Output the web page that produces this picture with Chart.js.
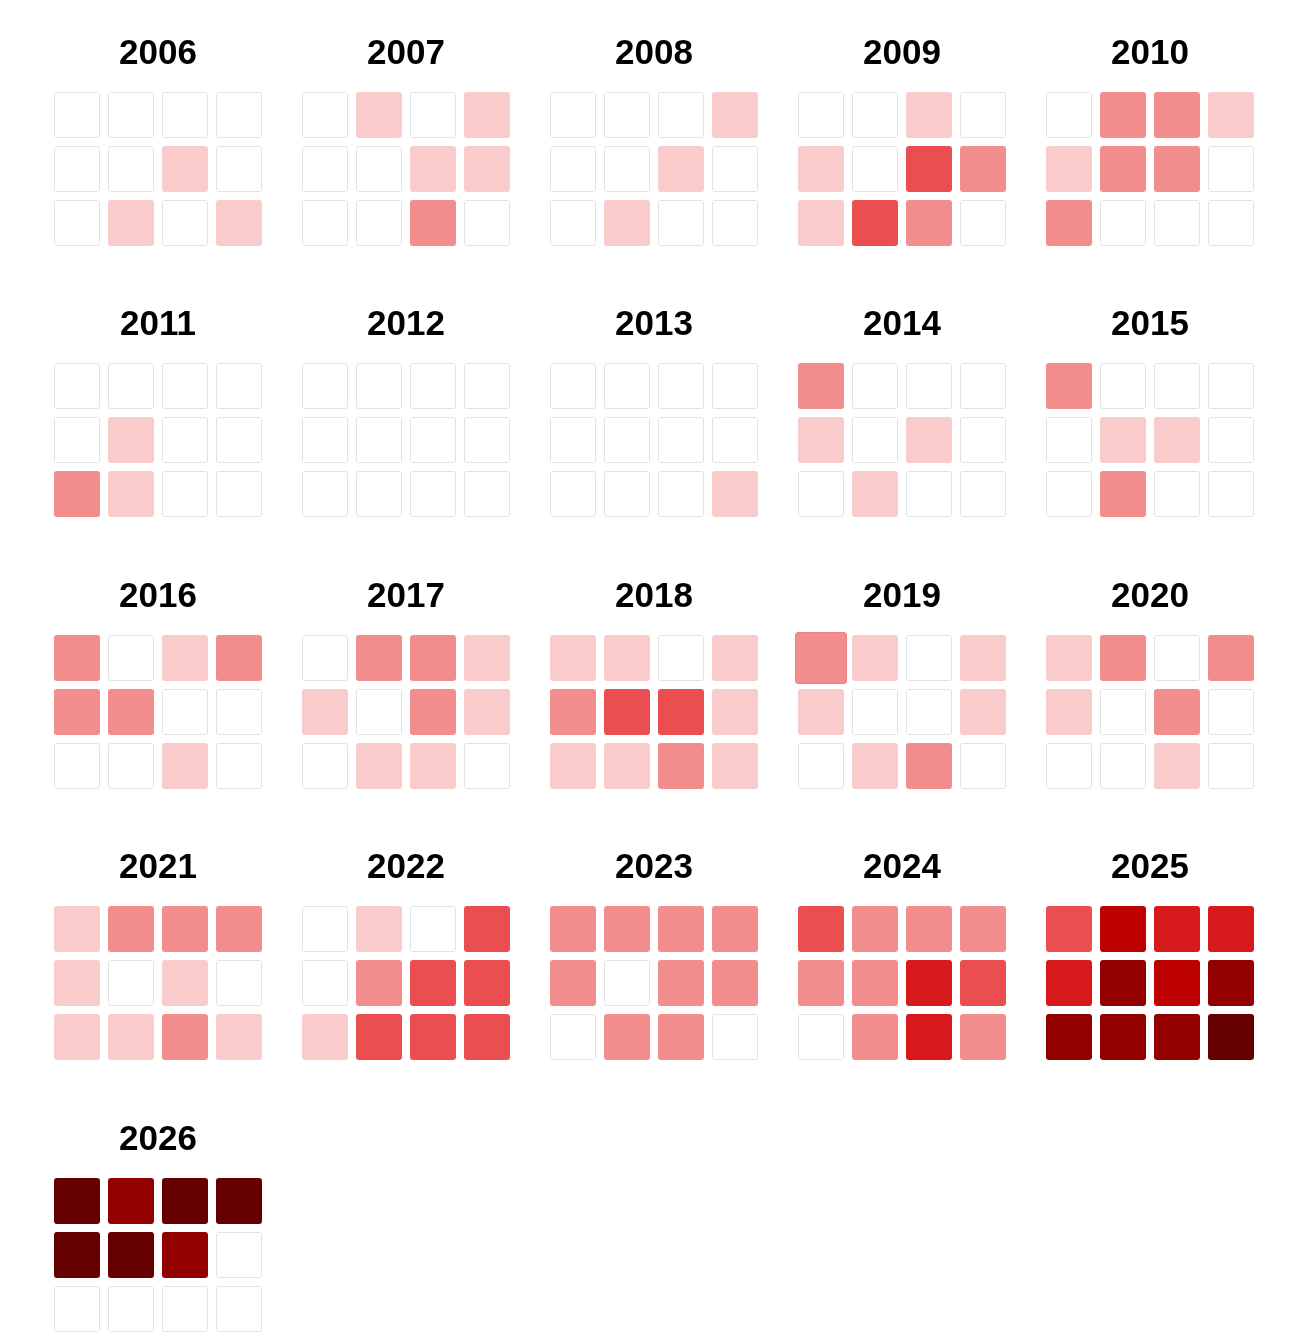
<!DOCTYPE html>
<html>
<head>
<meta charset="utf-8">
<script src="https://cdn.jsdelivr.net/npm/chart.js@4.4.1/dist/chart.umd.min.js"></script>
<style>
  html, body { margin: 0; padding: 0; background: #fff; }
  #wrap { position: relative; width: 1302px; height: 1340px; }
  .year { position: absolute; width: 216px; height: 250px; }
</style>
</head>
<body>
<div id="wrap"></div>
<script>
// years shown, one small grid each (4 columns x 3 rows = 12 months)
var years = [2006, 2007, 2008, 2009, 2010, 2011, 2012, 2013, 2014, 2015,
             2016, 2017, 2018, 2019, 2020, 2021, 2022, 2023, 2024, 2025, 2026];

// intensity level per month, Jan..Dec (0 = none)
var levels = [
  [0,0,0,0, 0,0,1,0, 0,1,0,1], // 2006
  [0,1,0,1, 0,0,1,1, 0,0,2,0], // 2007
  [0,0,0,1, 0,0,1,0, 0,1,0,0], // 2008
  [0,0,1,0, 1,0,3,2, 1,3,2,0], // 2009
  [0,2,2,1, 1,2,2,0, 2,0,0,0], // 2010
  [0,0,0,0, 0,1,0,0, 2,1,0,0], // 2011
  [0,0,0,0, 0,0,0,0, 0,0,0,0], // 2012
  [0,0,0,0, 0,0,0,0, 0,0,0,1], // 2013
  [2,0,0,0, 1,0,1,0, 0,1,0,0], // 2014
  [2,0,0,0, 0,1,1,0, 0,2,0,0], // 2015
  [2,0,1,2, 2,2,0,0, 0,0,1,0], // 2016
  [0,2,2,1, 1,0,2,1, 0,1,1,0], // 2017
  [1,1,0,1, 2,3,3,1, 1,1,2,1], // 2018
  [2,1,0,1, 1,0,0,1, 0,1,2,0], // 2019
  [1,2,0,2, 1,0,2,0, 0,0,1,0], // 2020
  [1,2,2,2, 1,0,1,0, 1,1,2,1], // 2021
  [0,1,0,3, 0,2,3,3, 1,3,3,3], // 2022
  [2,2,2,2, 2,0,2,2, 0,2,2,0], // 2023
  [3,2,2,2, 2,2,4,3, 0,2,4,2], // 2024
  [3,5,4,4, 4,6,5,6, 6,6,6,7], // 2025
  [7,6,7,7, 7,7,6,0, 0,0,0,0]  // 2026
];

var columns = ['c1', 'c2', 'c3', 'c4'];
var rows = [0, 1, 2];

// colour for each level
var palette = ['#ffffff', '#f9cbcb', '#f28d8d', '#ea4e50', '#d7191c', '#bd0000', '#930000', '#660000'];

// the one highlighted (hovered) cell in the picture: 2019, January
var hoverYear = 2019, hoverMonth = 0;

var HALF = 23 / 54;  // half cell height, in row units

var wrap = document.getElementById('wrap');

years.forEach(function (year, i) {
  var box = document.createElement('div');
  box.className = 'year';
  box.style.left = (50 + (i % 5) * 248) + 'px';
  box.style.top = Math.floor(Math.floor(i / 5) * 271.5) + 'px';
  var canvas = document.createElement('canvas');
  box.appendChild(canvas);
  wrap.appendChild(box);

  var lv = levels[i];
  var datasets = rows.map(function (r) {
    var rowLv = columns.map(function (c, k) { return lv[r * 4 + k]; });
    var isHover = columns.map(function (c, k) {
      return year === hoverYear && r * 4 + k === hoverMonth;
    });
    return {
      label: 'row ' + r,
      data: columns.map(function () { return [r - HALF, r + HALF]; }),
      backgroundColor: rowLv.map(function (v) { return palette[v]; }),
      borderColor: rowLv.map(function (v, k) {
        if (isHover[k]) return '#e98282';
        return v === 0 ? '#e2e2e2' : palette[v];
      }),
      borderWidth: rowLv.map(function (v, k) { return (v === 0 || isHover[k]) ? 1 : 0; }),
      inflateAmount: isHover.map(function (h) { return h ? 3 : 0; }),
      borderRadius: 3,
      borderSkipped: false,
      grouped: false,
      categoryPercentage: 1,
      barPercentage: 46 / 54,
      clip: false
    };
  });

  new Chart(canvas.getContext('2d'), {
    type: 'bar',
    data: { labels: columns, datasets: datasets },
    options: {
      responsive: true,
      maintainAspectRatio: false,
      animation: false,
      events: [],
      layout: { padding: 0 },
      plugins: {
        legend: { display: false },
        tooltip: { enabled: false },
        title: {
          display: true,
          text: String(year),
          color: '#000',
          font: { family: '"Liberation Sans", Arial, sans-serif', size: 35, weight: 'bold' },
          padding: { top: 33, bottom: 13 }
        }
      },
      scales: {
        x: { type: 'category', display: false, offset: true, grid: { display: false } },
        y: { type: 'linear', display: false, min: -0.5, max: 2.5, reverse: true }
      }
    }
  });
});
</script>
</body>
</html>
